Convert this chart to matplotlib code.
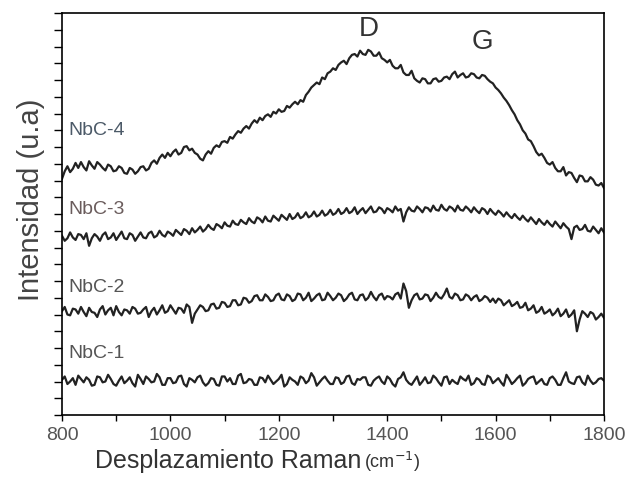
import numpy as np
import matplotlib
matplotlib.use('Agg')
import matplotlib.pyplot as plt
from matplotlib.ticker import MultipleLocator

plt.rcParams['font.family'] = ['Liberation Sans', 'DejaVu Sans']

# Raman shift, sampled every 5 cm-1
shift = np.arange(800, 1801, 5)

nbc1 = [2.10, 2.30, 1.85, 2.00, 2.20, 1.80, 2.35, 2.15, 1.95, 2.25,
        2.10, 1.75, 1.80, 2.30, 2.25, 1.95, 2.00, 2.40, 2.15, 1.85,
        1.75, 2.05, 2.30, 1.90, 2.05, 2.25, 1.90, 1.70, 2.40, 2.15,
        1.85, 2.30, 2.15, 1.95, 2.00, 2.45, 2.25, 1.80, 1.80, 2.20,
        2.20, 1.90, 1.95, 2.30, 2.35, 1.85, 1.70, 2.20, 2.10, 1.95,
        2.25, 2.35, 1.95, 1.75, 1.90, 2.20, 2.15, 1.80, 1.75, 2.30,
        2.30, 2.00, 2.20, 1.85, 1.85, 2.35, 2.45, 1.90, 1.95, 2.15,
        2.10, 1.80, 1.80, 2.25, 2.20, 1.95, 2.35, 2.10, 1.85, 2.00,
        2.15, 2.40, 1.70, 1.85, 2.25, 2.10, 2.00, 1.80, 2.30, 2.20,
        1.90, 2.05, 2.50, 2.25, 1.75, 1.95, 2.15, 2.30, 2.05, 1.85,
        1.85, 2.25, 2.20, 1.85, 1.95, 2.30, 2.35, 1.90, 1.80, 2.15,
        2.10, 2.25, 2.25, 1.80, 1.75, 2.05, 2.20, 2.30, 2.00, 1.85,
        2.30, 2.15, 1.85, 1.70, 2.15, 2.25, 2.55, 2.10, 1.90, 1.80,
        2.05, 2.30, 1.80, 2.00, 2.25, 1.90, 1.95, 2.35, 2.20, 1.95,
        1.75, 2.25, 2.30, 1.85, 2.10, 1.95, 1.85, 2.30, 2.15, 2.05,
        2.35, 1.80, 1.90, 2.20, 2.10, 1.85, 1.80, 2.35, 2.25, 1.90,
        2.05, 2.20, 1.95, 1.75, 2.40, 2.15, 1.85, 2.00, 2.20, 2.35,
        1.75, 1.90, 2.15, 2.25, 2.30, 1.85, 2.00, 2.15, 1.85, 1.80,
        2.20, 2.30, 2.10, 1.80, 1.80, 2.20, 2.55, 2.00, 1.90, 1.85,
        2.25, 2.30, 1.95, 1.80, 2.35, 2.05, 1.85, 1.95, 2.15, 2.20,
        2.05]

nbc2 = [6.20, 6.45, 6.00, 5.95, 6.35, 6.30, 6.05, 6.45, 6.15, 5.90,
        6.40, 6.15, 6.10, 5.85, 6.30, 6.50, 6.00, 6.25, 6.40, 5.95,
        6.50, 6.15, 5.95, 6.30, 6.25, 6.05, 6.45, 6.35, 6.05, 6.10,
        6.30, 6.45, 5.85, 6.20, 6.40, 6.00, 6.25, 6.55, 6.10, 6.20,
        6.55, 6.30, 6.05, 6.40, 6.35, 6.10, 6.60, 6.45, 5.50, 6.05,
        6.30, 6.55, 6.45, 6.20, 6.25, 6.60, 6.65, 6.35, 6.40, 6.75,
        6.70, 6.45, 6.50, 6.85, 6.85, 6.55, 6.60, 7.00, 6.95, 6.70,
        6.80, 7.10, 7.15, 6.85, 6.85, 7.20, 7.05, 6.80, 6.85, 7.15,
        7.25, 6.90, 6.85, 7.20, 7.10, 6.80, 6.90, 7.25, 7.20, 6.85,
        7.00, 7.30, 6.80, 6.95, 7.15, 7.25, 6.85, 6.90, 7.30, 7.10,
        6.85, 7.00, 7.25, 7.15, 6.80, 6.95, 7.20, 7.30, 6.90, 6.85,
        7.15, 7.20, 6.85, 7.00, 7.35, 7.05, 6.85, 7.15, 7.25, 6.90,
        7.10, 7.05, 6.90, 7.20, 7.30, 6.95, 7.85, 7.40, 6.40, 6.85,
        7.15, 7.25, 6.90, 6.95, 7.20, 7.15, 6.80, 7.00, 7.30, 7.05,
        6.95, 7.20, 7.55, 7.05, 6.95, 7.25, 7.15, 6.85, 6.90, 7.20,
        7.10, 6.85, 7.05, 7.15, 6.80, 6.90, 7.10, 7.00, 6.75, 6.95,
        6.70, 6.95, 6.85, 6.55, 6.70, 6.85, 6.50, 6.60, 6.75, 6.40,
        6.45, 6.70, 6.25, 6.35, 6.55, 6.10, 6.20, 6.45, 6.05, 6.15,
        6.30, 5.95, 6.10, 6.35, 5.90, 6.05, 6.30, 5.85, 6.00, 6.25,
        5.00, 5.70, 6.20, 6.05, 5.85, 6.15, 6.05, 5.70, 5.85, 6.05,
        5.80]

nbc3 = [10.70, 10.40, 10.55, 10.90, 10.60, 10.45, 10.80, 10.75, 10.50, 10.85,
        10.10, 10.55, 10.80, 10.65, 10.40, 10.75, 10.90, 10.50, 10.60, 10.85,
        10.45, 10.70, 10.95, 10.55, 10.50, 10.85, 10.75, 10.40, 10.65, 10.90,
        10.60, 10.55, 10.85, 10.95, 10.60, 10.70, 11.00, 10.75, 10.65, 10.95,
        10.85, 10.70, 11.05, 10.90, 10.75, 11.10, 11.00, 10.80, 11.15, 10.90,
        11.05, 11.25, 10.95, 11.10, 11.35, 11.15, 11.05, 11.40, 11.30, 11.15,
        11.50, 11.30, 11.25, 11.60, 11.40, 11.35, 11.65, 11.50, 11.40, 11.75,
        11.55, 11.45, 11.80, 11.70, 11.50, 11.85, 11.60, 11.55, 11.90, 11.75,
        11.60, 11.95, 11.80, 11.65, 12.00, 11.70, 11.80, 12.05, 11.75, 11.85,
        12.10, 11.80, 11.90, 12.15, 11.85, 11.95, 12.20, 11.90, 12.00, 12.25,
        11.95, 12.05, 12.30, 12.00, 12.10, 12.35, 12.05, 12.15, 12.40, 12.00,
        12.20, 12.35, 12.05, 12.25, 12.45, 12.10, 12.15, 12.40, 12.30, 12.05,
        12.35, 12.25, 12.10, 12.45, 12.20, 12.30, 11.55, 12.10, 12.40, 12.20,
        12.15, 12.45, 12.30, 12.10, 12.40, 12.35, 12.15, 12.50, 12.25, 12.20,
        12.55, 12.30, 12.20, 12.45, 12.35, 12.15, 12.50, 12.25, 12.20, 12.45,
        12.30, 12.10, 12.40, 12.20, 12.05, 12.35, 12.25, 12.00, 12.30, 12.10,
        11.95, 12.20, 12.05, 11.85, 12.10, 11.90, 11.75, 12.00, 11.80, 11.65,
        11.90, 11.70, 11.55, 11.80, 11.60, 11.40, 11.70, 11.50, 11.35, 11.60,
        11.40, 11.25, 11.55, 11.35, 11.15, 11.45, 11.25, 11.10, 10.50, 11.20,
        11.30, 11.05, 11.10, 11.35, 11.00, 10.95, 11.25, 11.05, 10.85, 11.15,
        10.90]

nbc4 = [14.10, 14.55, 14.85, 14.50, 14.70, 15.05, 14.75, 15.10, 14.80, 14.60,
        15.15, 14.90, 14.70, 15.10, 14.95, 14.75, 14.60, 14.95, 14.85, 14.55,
        14.60, 14.85, 14.75, 14.45, 14.40, 14.75, 14.65, 14.40, 14.55, 14.80,
        14.85, 14.60, 14.70, 15.05, 15.20, 15.00, 15.35, 15.55, 15.35, 15.65,
        15.45, 15.70, 15.85, 15.55, 15.65, 16.00, 16.05, 15.80, 15.90, 15.65,
        15.55, 15.30, 15.20, 15.55, 15.75, 15.60, 15.95, 16.10, 16.00, 16.30,
        16.35, 16.25, 16.60, 16.50, 16.75, 16.95, 16.85, 17.10, 17.25, 17.10,
        17.40, 17.60, 17.45, 17.75, 17.60, 17.85, 17.95, 17.80, 18.10, 18.00,
        18.25, 18.10, 18.15, 18.45, 18.35, 18.55, 18.70, 18.55, 18.80, 18.70,
        19.10, 19.30, 19.55, 19.70, 19.85, 19.75, 20.15, 20.05, 20.40, 20.50,
        20.70, 20.60, 20.90, 21.05, 21.15, 20.95, 21.30, 21.50, 21.55, 21.40,
        21.75, 21.55, 21.50, 21.80, 21.70, 21.45, 21.45, 21.65, 21.30, 21.20,
        21.05, 21.20, 20.85, 20.70, 20.70, 20.90, 20.45, 20.30, 20.30, 20.55,
        20.10, 19.95, 19.85, 20.10, 20.05, 19.80, 19.80, 20.05, 20.10, 19.90,
        19.95, 20.15, 20.20, 20.05, 20.35, 20.50, 20.15, 20.30, 20.40, 20.15,
        20.20, 20.40, 20.35, 20.15, 20.10, 20.30, 20.25, 20.05, 19.90, 19.80,
        19.55, 19.40, 19.20, 18.95, 18.75, 18.50, 18.20, 17.95, 17.60, 17.35,
        17.00, 16.80, 16.45, 16.35, 16.05, 15.70, 15.50, 15.60, 15.35, 15.05,
        14.95, 15.10, 14.75, 14.55, 14.55, 14.80, 14.30, 14.50, 14.45, 14.15,
        13.90, 14.30, 14.25, 13.95, 13.95, 14.20, 14.05, 13.75, 13.70, 13.85,
        13.55]

names = ['NbC-1', 'NbC-2', 'NbC-3', 'NbC-4']
name_y = [3.70, 7.64, 12.24, 17.0]
name_colors = ['#555555', '#555555', '#6a5c5c', '#4c5a68']

fig = plt.figure(figsize=(6.28, 4.84), dpi=100)
ax = fig.add_axes([62/628, 69/484, 542/628, 402/484])

for s in [nbc1, nbc2, nbc3, nbc4]:
    ax.plot(shift, s, color='#222222', lw=1.6)

for n, yy, c in zip(names, name_y, name_colors):
    ax.text(812, yy, n, fontsize=14, color=c, va='center', ha='left')

ax.text(1366, 23.05, 'D', fontsize=20, color='#333333', ha='center', va='center')
ax.text(1575, 22.27, 'G', fontsize=20, color='#333333', ha='center', va='center')

ax.set_xlim(800, 1800)
ax.set_ylim(0, 24)
ax.xaxis.set_major_locator(MultipleLocator(200))
ax.xaxis.set_minor_locator(MultipleLocator(100))
ax.yaxis.set_major_locator(MultipleLocator(1))
ax.set_yticklabels([])
ax.tick_params(axis='x', which='both', direction='out', length=4, width=1,
               labelsize=14, labelcolor='#555555', pad=5)
ax.tick_params(axis='y', which='both', direction='out', length=6, width=1)
for sp in ax.spines.values():
    sp.set_linewidth(1.2)

fig.text(95/628, 1 - 461/484, 'Desplazamiento Raman', fontsize=18,
         color='#333333', ha='left', va='center')
fig.text(364/628, 1 - 462/484, '(cm$^{-1}$)', fontsize=13,
         color='#333333', ha='left', va='center')
fig.text(31/628, 1 - 200/484, 'Intensidad (u.a)', fontsize=21,
         color='#444444', rotation=90, ha='center', va='center')

fig.savefig('out.png', dpi=100)
